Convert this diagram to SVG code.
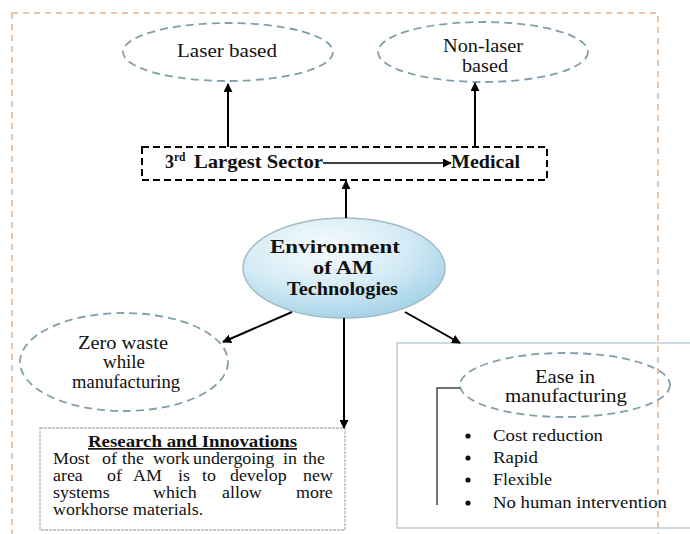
<svg xmlns="http://www.w3.org/2000/svg" width="690" height="534" viewBox="0 0 690 534">
<style>
.t{font-family:"Liberation Serif","Times New Roman",serif;fill:#111;}
.b{font-weight:bold;}
.dash{fill:#fff;stroke:#819faa;stroke-width:1.8;stroke-dasharray:8 5;}
.con{stroke:#000;stroke-width:2;fill:none;}
</style>
<defs>
<marker id="ah" viewBox="0 0 10 10" refX="9" refY="5" markerWidth="9" markerHeight="9" markerUnits="userSpaceOnUse" orient="auto">
<path d="M0,0 L10,5 L0,10 z" fill="#000"/>
</marker>
<radialGradient id="g" cx="0.4" cy="0.3" r="0.75">
<stop offset="0" stop-color="#f7fcfe"/>
<stop offset="0.55" stop-color="#d4ebf5"/>
<stop offset="1" stop-color="#9fd0e6"/>
</radialGradient>
</defs>
<rect width="690" height="534" fill="#fff"/>

<g id="ease-box">
<rect x="397" y="343" width="310" height="185" fill="#fff" stroke="#b9ccd5" stroke-width="1.5"/>
</g>
<g id="research">
<rect x="40" y="428" width="305" height="102" fill="#fff" stroke="#b5b5b5" stroke-width="1.3" stroke-dasharray="3 1"/>
<text class="t b" x="88" y="447" font-size="17" textLength="209" lengthAdjust="spacingAndGlyphs" text-decoration="underline">Research and Innovations</text>
<g class="t" font-size="16" transform="translate(53 0) scale(1.12 1)">
<text y="464"><tspan x="0">Most</tspan><tspan x="43.7">of</tspan><tspan x="61.6">the</tspan><tspan x="89.3">work</tspan><tspan x="125">undergoing</tspan><tspan x="205.4">in</tspan><tspan x="223.2">the</tspan></text>
<text y="481"><tspan x="0">area</tspan><tspan x="48.2">of</tspan><tspan x="71.4">AM</tspan><tspan x="111.6">is</tspan><tspan x="133">to</tspan><tspan x="158">develop</tspan><tspan x="223.2">new</tspan></text>
<text y="498"><tspan x="0">systems</tspan><tspan x="89.3">which</tspan><tspan x="150.9">allow</tspan><tspan x="217">more</tspan></text>
<text x="0" y="515">workhorse materials.</text>
</g>
</g>

<g id="laser">
<ellipse class="dash" cx="228" cy="52" rx="105" ry="29"/>
<text class="t" x="177" y="57" font-size="18" textLength="100" lengthAdjust="spacingAndGlyphs">Laser based</text>
</g>
<g id="nonlaser">
<ellipse class="dash" cx="483" cy="52" rx="105" ry="30"/>
<text class="t" x="443" y="52" font-size="18" textLength="80" lengthAdjust="spacingAndGlyphs">Non-laser</text>
<text class="t" x="462" y="72" font-size="18" textLength="46" lengthAdjust="spacingAndGlyphs">based</text>
</g>
<g id="sector">
<rect x="142" y="147" width="405" height="33" fill="#fff" stroke="#000" stroke-width="2" stroke-dasharray="7 4"/>
<text class="t b" x="165" y="168" font-size="18">3</text>
<text class="t b" x="174" y="161" font-size="11.5">rd</text>
<text class="t b" x="194" y="168" font-size="18" textLength="129" lengthAdjust="spacingAndGlyphs">Largest Sector</text>
<text class="t b" x="451" y="168" font-size="18" textLength="69" lengthAdjust="spacingAndGlyphs">Medical</text>
</g>
<g id="center">
<ellipse cx="344" cy="268" rx="101" ry="50" fill="url(#g)" stroke="#a3bac5" stroke-width="1.5"/>
<text class="t b" x="270" y="253" font-size="19" textLength="130" lengthAdjust="spacingAndGlyphs">Environment</text>
<text class="t b" x="313" y="274" font-size="19" textLength="60" lengthAdjust="spacingAndGlyphs">of AM</text>
<text class="t b" x="287" y="295" font-size="19" textLength="111" lengthAdjust="spacingAndGlyphs">Technologies</text>
</g>
<g id="zerowaste">
<ellipse class="dash" cx="124" cy="362" rx="104" ry="49"/>
<text class="t" x="78" y="349" font-size="18" textLength="90" lengthAdjust="spacingAndGlyphs">Zero waste</text>
<text class="t" x="103" y="368" font-size="18" textLength="42" lengthAdjust="spacingAndGlyphs">while</text>
<text class="t" x="72" y="388" font-size="18" textLength="108" lengthAdjust="spacingAndGlyphs">manufacturing</text>
</g>
<g id="ease">
<ellipse class="dash" cx="565" cy="385" rx="105" ry="32"/>
<text class="t" x="535" y="383" font-size="18" textLength="60" lengthAdjust="spacingAndGlyphs">Ease in</text>
<text class="t" x="505" y="402" font-size="18" textLength="122" lengthAdjust="spacingAndGlyphs">manufacturing</text>
<polyline points="460,388 437,388 437,505" fill="none" stroke="#444" stroke-width="1.5"/>
<g fill="#111">
<circle cx="468" cy="436" r="2.6"/>
<circle cx="468" cy="458" r="2.6"/>
<circle cx="468" cy="480" r="2.6"/>
<circle cx="468" cy="503" r="2.6"/>
</g>
<text class="t" x="493" y="441" font-size="17" textLength="110" lengthAdjust="spacingAndGlyphs">Cost reduction</text>
<text class="t" x="493" y="463" font-size="17" textLength="45" lengthAdjust="spacingAndGlyphs">Rapid</text>
<text class="t" x="493" y="485" font-size="17" textLength="59" lengthAdjust="spacingAndGlyphs">Flexible</text>
<text class="t" x="493" y="508" font-size="17" textLength="174" lengthAdjust="spacingAndGlyphs">No human intervention</text>
</g>

<g id="connectors">
<line class="con" x1="228" y1="147" x2="228" y2="84" marker-end="url(#ah)"/>
<line class="con" x1="475" y1="147" x2="475" y2="83" marker-end="url(#ah)"/>
<line x1="323" y1="163" x2="451" y2="163" stroke="#000" stroke-width="1.6" marker-end="url(#ah)"/>
<line class="con" x1="346" y1="218" x2="346" y2="181" marker-end="url(#ah)"/>
<line class="con" x1="292" y1="312" x2="223" y2="342" marker-end="url(#ah)"/>
<line class="con" x1="405" y1="312" x2="460" y2="343" marker-end="url(#ah)"/>
<line class="con" x1="344" y1="318" x2="344" y2="428" marker-end="url(#ah)"/>
</g>

<rect x="12" y="13" width="646" height="545" fill="none" stroke="#e2b48e" stroke-width="1.5" stroke-dasharray="6 5"/>
</svg>
